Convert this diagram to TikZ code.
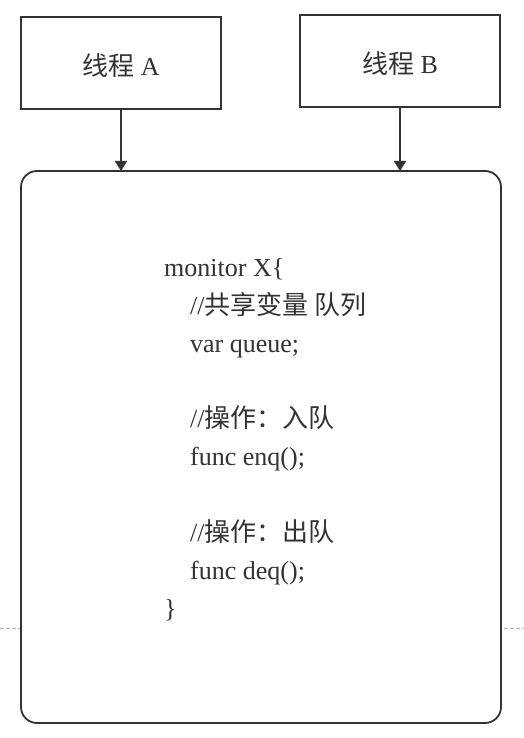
\documentclass[tikz,border=0pt]{standalone}
\usepackage{fontspec}
\setmainfont{Liberation Serif}
\newfontfamily\cjk{Noto Sans CJK SC}
\usetikzlibrary{arrows.meta}
\definecolor{ink}{HTML}{333333}
\definecolor{dashgray}{HTML}{BBBBBB}
\begin{document}
\begin{tikzpicture}[x=1pt,y=-1pt,
  box/.style={draw=ink,line width=1.8pt,fill=white},
  lbl/.style={text=ink,font=\fontsize{26}{30}\selectfont},
  code/.style={anchor=base west,inner sep=0pt,text=ink,font=\fontsize{26}{30}\selectfont},
  conn/.style={draw=ink,line width=1.8pt,-{Triangle[length=10pt,width=12pt]}}]
\useasboundingbox (0,0) rectangle (524,738);
\coordinate (dl) at (0,628);
\coordinate (dr) at (524,628);
\draw[dashgray,line width=0.8pt,dash pattern=on 4pt off 2pt] (dl) -- (dr);
\node[box,minimum width=200pt,minimum height=92pt,inner sep=0pt] (a) at (121,63) {};
\node[lbl] (at) at (121,66) {{\cjk 线程} A};
\node[box,minimum width=200pt,minimum height=92pt,inner sep=0pt] (b) at (400,61) {};
\node[lbl] (bt) at (400,64) {{\cjk 线程} B};
\draw[box,rounded corners=16pt] (21,171) rectangle (501,723);
\coordinate (ma) at (121,171);
\coordinate (mb) at (400,171);
\draw[conn] (a.south) -- (ma);
\draw[conn] (b.south) -- (mb);
\node[code] (l1) at (164,276) {monitor X\{};
\node[code] (l2) at (190,314) {//{\cjk 共享变量 队列}};
\node[code] (l3) at (190,352) {var queue;};
\node[code] (l4) at (190,427) {//{\cjk 操作：入队}};
\node[code] (l5) at (190,465) {func enq();};
\node[code] (l6) at (190,541) {//{\cjk 操作：出队}};
\node[code] (l7) at (190,579) {func deq();};
\node[code] (l8) at (164,617) {\}};
\end{tikzpicture}
\end{document}
